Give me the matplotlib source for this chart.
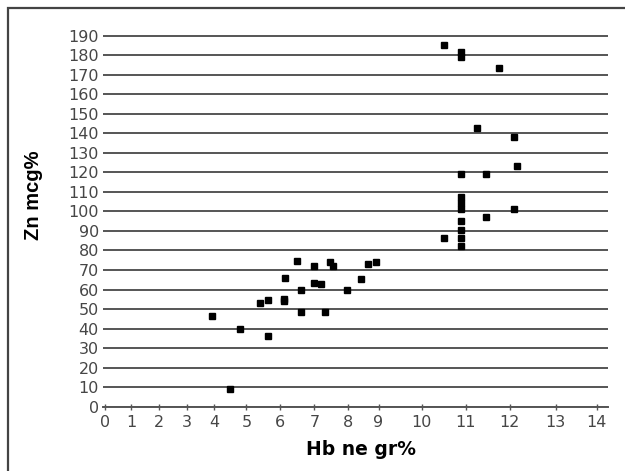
import numpy as np
from matplotlib import pyplot as plt
from matplotlib.patches import Rectangle

# Hb (g%) and Zn (mcg%)
hb = [3.9, 4.8, 4.5, 5.65, 5.4, 5.65, 6.1, 6.1, 6.15, 6.5,
      6.6, 6.6, 7.0, 7.0, 7.2, 7.3, 7.45, 7.55, 7.95, 8.4,
      8.65, 8.9, 10.5, 10.9, 10.9, 11.75, 11.25, 12.1, 12.15, 10.9,
      11.45, 10.9, 10.9, 10.9, 12.1, 11.45, 10.9, 10.9, 10.5, 10.9,
      10.9]
zn = [46.5, 40, 9, 36, 53, 54.5, 55, 54, 66, 74.5,
      60, 48.5, 72, 63.5, 63, 48.5, 74, 72, 60, 65.5,
      73, 74, 185, 181.5, 179, 173.5, 142.5, 138, 123.5, 119,
      119, 107.5, 104.5, 101.5, 101, 97, 95, 90.5, 86.5, 86.5,
      82.5]

xticks = list(range(0, 15))
yticks = list(range(0, 200, 10))

# the original x axis is not evenly spaced, tick spacing taken from the picture
scale_vals = [-2] + xticks + [16]
scale_pos = [53, 105, 131, 159, 187, 214, 246, 280, 314, 348, 378,
             421, 465, 509, 555, 596, 678]

def fwd(x):
    return np.interp(x, scale_vals, scale_pos)

def inv(p):
    return np.interp(p, scale_pos, scale_vals)


fig = plt.figure(figsize=(6.25, 4.71), dpi=100)
ax = fig.add_axes([0.1648, 0.1365, 0.808, 0.8043])

ax.set_xscale('function', functions=(fwd, inv))
ax.set_xlim(-0.08, 14.27)
ax.set_ylim(0, 194)

ax.plot(hb, zn, 's', color='black', markersize=5, zorder=3)

gray = '#555555'
ax.set_yticks(yticks)
ax.set_xticks(xticks)
ax.set_xticklabels([str(t) for t in xticks])
ax.minorticks_off()
ax.yaxis.grid(True, color=gray, linewidth=1.4)
ax.set_axisbelow(True)

for s in ['top', 'right', 'left']:
    ax.spines[s].set_visible(False)
ax.spines['bottom'].set_color(gray)
ax.spines['bottom'].set_linewidth(1.4)

ax.tick_params(axis='y', length=0, pad=3, labelsize=11.5, labelcolor='#464646')
ax.tick_params(axis='x', direction='inout', length=5, width=1, color=gray,
               pad=3.5, labelsize=11.5, labelcolor='#464646')
for lab in ax.get_xticklabels() + ax.get_yticklabels():
    lab.set_family('DejaVu Sans')

ax.set_xlabel('Hb ne gr%', fontsize=13.5, fontweight='bold', family='DejaVu Sans')
ax.xaxis.set_label_coords(0.511, -0.112)
ax.xaxis.label.set_va('center')
ax.set_ylabel('Zn mcg%', fontsize=14.5, fontweight='bold', family='Liberation Sans')
ax.yaxis.set_label_coords(-0.137, 0.559)
ax.yaxis.label.set_va('center')

# outer frame of the original picture (right and bottom edges are cut off)
fig.patches.append(Rectangle((8 / 625, -0.1), 1.2, 1 - 8 / 471 + 0.1,
                             transform=fig.transFigure, fill=False,
                             edgecolor='#444444', linewidth=1.6))

fig.savefig('out.png', dpi=100)
